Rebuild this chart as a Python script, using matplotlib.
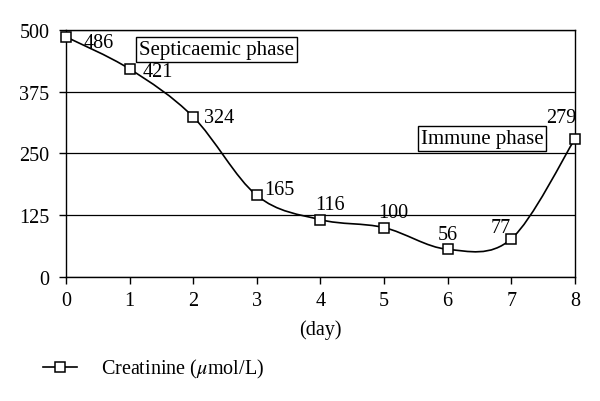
import numpy as np
import matplotlib.pyplot as plt
from matplotlib.path import Path
from matplotlib.patches import PathPatch

plt.rcParams['font.family'] = ['Liberation Serif', 'DejaVu Serif']
plt.rcParams['mathtext.fontset'] = 'stix'

days = [0, 1, 2, 3, 4, 5, 6, 7, 8]
creatinine = [486, 421, 324, 165, 116, 100, 56, 77, 279]
yticks = [0, 125, 250, 375, 500]

# label centre offsets (pixels) for each value label
offsets = [(33, -6), (28, -3), (26, -1), (23, 6), (10, 15), (9, 15), (0, 15), (-10, 11), (-14, 22)]

FS = 14.5

fig = plt.figure(figsize=(6, 4.02), dpi=100)
ax = fig.add_axes([0.11, 0.3085, 0.848, 0.6145])

# smoothed line (Excel-style Bezier through the points)
x = np.array(days, dtype=float)
y = np.array(creatinine, dtype=float)
verts = [(x[0], y[0])]
codes = [Path.MOVETO]
n = len(x)
for i in range(n - 1):
    p0 = (x[max(i - 1, 0)], y[max(i - 1, 0)])
    p1 = (x[i], y[i])
    p2 = (x[i + 1], y[i + 1])
    p3 = (x[min(i + 2, n - 1)], y[min(i + 2, n - 1)])
    c1 = (p1[0] + (p2[0] - p0[0]) / 6, p1[1] + (p2[1] - p0[1]) / 6)
    c2 = (p2[0] - (p3[0] - p1[0]) / 6, p2[1] - (p3[1] - p1[1]) / 6)
    verts += [c1, c2, p2]
    codes += [Path.CURVE4] * 3
ax.add_patch(PathPatch(Path(verts, codes), fill=False, lw=1.2, color='black',
                       zorder=3, clip_on=False))

ax.plot(days, creatinine, linestyle='none', marker='s', markersize=7.5,
        markerfacecolor='white', markeredgecolor='black', markeredgewidth=1.1,
        zorder=4, clip_on=False)
line_for_legend, = ax.plot([], [], color='black', lw=1.2, marker='s', markersize=7.5,
                           markerfacecolor='white', markeredgecolor='black',
                           markeredgewidth=1.1)

for d, v, off in zip(days, creatinine, offsets):
    ax.annotate(str(v), (d, v), xytext=off, textcoords='offset pixels',
                fontsize=FS, ha='center', va='center')

ax.set_xlim(0, 8)
ax.set_ylim(0, 500)
ax.set_xticks(days)
ax.set_yticks(yticks)
ax.tick_params(labelsize=FS, direction='out', length=5, width=1, color='black')
ax.tick_params(axis='y', pad=7)
ax.tick_params(axis='x', pad=5)
ax.grid(axis='y', color='black', lw=0.9)
ax.set_axisbelow(True)
for s in ax.spines.values():
    s.set_linewidth(1)
ax.set_xlabel('(day)', fontsize=FS, labelpad=7)

ax.text(2.37, 461, 'Septicaemic phase', fontsize=15, va='center', ha='center',
        bbox=dict(boxstyle='square,pad=0.15', facecolor='white', edgecolor='black', lw=1))
ax.text(6.54, 281, 'Immune phase', fontsize=15, va='center', ha='center',
        bbox=dict(boxstyle='square,pad=0.15', facecolor='white', edgecolor='black', lw=1))

fig.legend([line_for_legend], ['Creatinine ($\\mu$mol/L)'], loc='center left',
           bbox_to_anchor=(0.072, 0.08), frameon=False, fontsize=FS,
           borderpad=0, borderaxespad=0,
           handlelength=1.7, handletextpad=1.15)

fig.savefig('out.png', dpi=100)
